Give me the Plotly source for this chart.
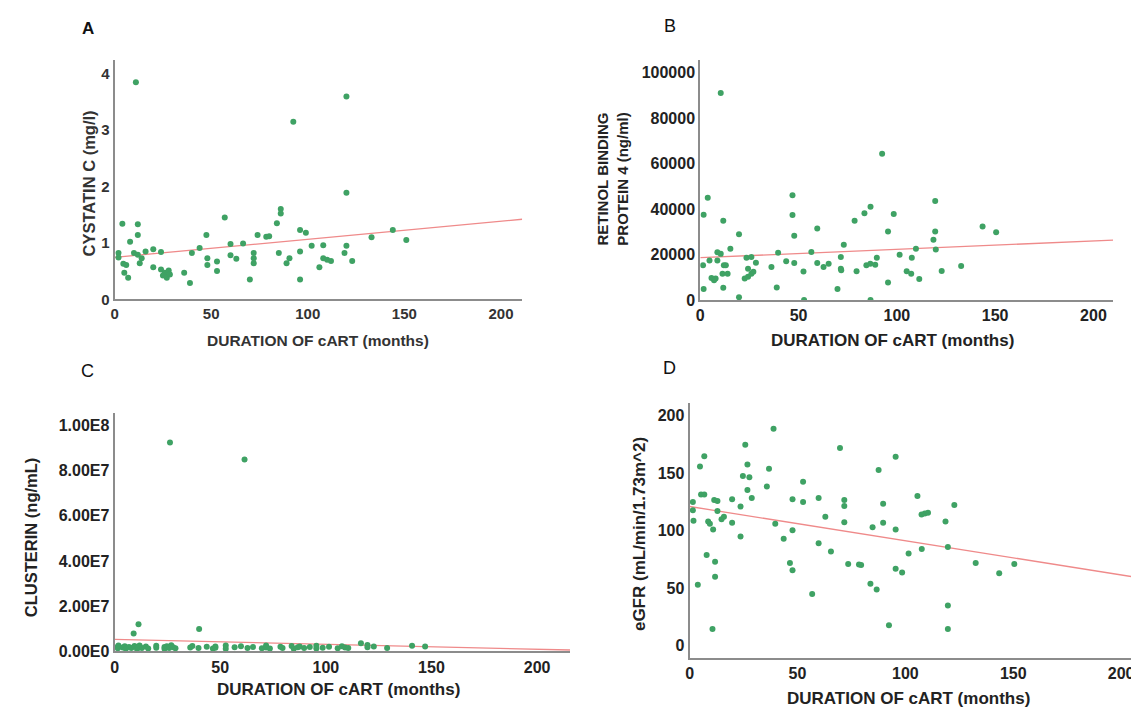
import plotly.graph_objects as go

W, H = 1139, 715

# ---------------- data ----------------
months_ticks = [0, 50, 100, 150, 200]
months_ticktext = ["0", "50", "100", "150", "200"]

# Panel A: Cystatin C (mg/l)
A_x = [11, 120, 92.5, 120, 4, 12, 12, 8, 2, 2, 4.5, 6, 5, 7, 10, 12, 14, 13, 16, 20,
       20, 24, 24, 26, 28, 27, 28.6, 25, 36, 39, 40, 44, 47.5, 48, 48, 53, 53, 57, 60, 60,
       63, 66.5, 70, 72, 72, 72, 74, 78.5, 80, 84, 86, 86, 85, 89, 90.5, 96, 99, 96, 96, 102,
       106, 108, 108, 110, 112, 119, 120, 123, 133, 144, 151]
A_y = [3.85, 3.6, 3.15, 1.89, 1.34, 1.33, 1.14, 1.02, 0.82, 0.74, 0.63, 0.61, 0.47, 0.38, 0.82, 0.79, 0.73, 0.64, 0.85, 0.89,
       0.57, 0.84, 0.53, 0.47, 0.51, 0.38, 0.44, 0.42, 0.47, 0.29, 0.82, 0.91, 1.14, 0.73, 0.61, 0.67, 0.5, 1.45, 0.98, 0.78,
       0.72, 0.99, 0.35, 0.82, 0.73, 0.64, 1.14, 1.11, 1.12, 1.35, 1.6, 1.52, 0.82, 0.64, 0.73, 1.23, 1.18, 0.85, 0.35, 0.95,
       0.57, 0.96, 0.73, 0.7, 0.68, 0.82, 0.95, 0.68, 1.1, 1.23, 1.05]
A_fit = [0.745, 0.0032]          # intercept, slope
A_yticks = [0, 1, 2, 3, 4]
A_yticktext = ["0", "1", "2", "3", "4"]

# Panel B: Retinol binding protein 4 (ng/ml)
B_x = [10.4, 92.5, 1.7, 3.8, 1.4, 1.7, 11.7, 19.7, 15.3, 8.7,
       10.4, 4.7, 8.7, 12, 13, 5.7, 7, 7.8, 11.3, 13.9,
       11.7, 19.7, 23.5, 26, 24.3, 22.6, 24.3, 26, 27, 28.3,
       36.2, 38.9, 39.6, 46.9, 46.9, 47.8, 43.7, 47.8, 52.5, 52.8,
       56.5, 59.5, 59.5, 62.7, 65.3, 69.8, 71.5, 71.5, 71.7, 73,
       78.5, 79.5, 83.5, 86.6, 84.5, 86.5, 89, 89.8, 86.6, 95.5,
       95.5, 98.4, 101.4, 105, 107.3, 107.6, 109.7, 111.4, 119.5, 119.5,
       118.6, 119.8, 122.8, 132.7, 143.6, 150.5]
B_y = [91100, 64400, 37500, 45000, 15300, 4800, 34900, 28900, 22500, 21000,
       20300, 17400, 17400, 15300, 15300, 9700, 8700, 9400, 11600, 11600,
       5400, 1200, 18600, 18900, 13800, 9400, 10200, 11600, 12400, 16400,
       14500, 5500, 20800, 46100, 37400, 28300, 17000, 16300, 12500, 0,
       21100, 31500, 16300, 14500, 16000, 4800, 18900, 13800, 13100, 24300,
       34900, 12600, 38200, 41000, 15300, 16000, 15500, 18600, 0, 30100,
       7700, 37800, 19900, 12600, 11600, 18600, 22500, 9200, 43600, 30200,
       26500, 22200, 12800, 15000, 32400, 29800]
B_fit = [18600, 37]
B_yticks = [0, 20000, 40000, 60000, 80000, 100000]
B_yticktext = ["0", "20000", "40000", "60000", "80000", "100000"]

# Panel C: Clusterin (ng/mL)
C_x = [26.2, 61.5, 9.0, 11.3, 40.0, 116.6, 129, 140.8, 147,
       1.5, 1.5, 1.8, 3.8, 4.8, 5.3, 6.8, 7.9, 9.4, 10.6, 11.4, 11.8, 12.9, 14.8, 15.9,
       19.7, 19.7, 23.6, 23.6, 24.7, 25.8, 26.8, 27.7, 28.8, 35.8, 36.8, 39.7, 43.6,
       46.5, 47.7, 47.7, 52.6, 52.6, 56.8, 59.8, 62.9, 65.5, 69.7, 71.7, 71.7, 73.5,
       78.5, 79.5, 83.8, 84.8, 86.7, 87.6, 89.7, 92.4, 95.5, 95.5, 98.5, 101.5, 105.6,
       107.6, 109.1, 110.6, 119.7, 119.7, 122.7]
C_y = [92.4e6, 84.9e6, 8.0e6, 12.0e6, 10.0e6, 3.6e6, 1.5e6, 2.5e6, 2.2e6,
       2.1e6, 1.4e6, 2.6e6, 1.8e6, 2.3e6, 1.2e6, 2.0e6, 1.6e6, 2.4e6, 1.1e6, 1.9e6, 2.7e6, 1.5e6, 2.2e6, 1.3e6,
       2.5e6, 1.7e6, 2.0e6, 1.2e6, 2.3e6, 1.6e6, 2.8e6, 1.9e6, 1.4e6, 1.8e6, 2.4e6, 1.5e6, 2.1e6,
       1.3e6, 2.2e6, 1.7e6, 2.6e6, 1.2e6, 1.9e6, 2.3e6, 1.5e6, 2.0e6, 1.4e6, 2.7e6, 1.8e6, 1.3e6,
       2.1e6, 1.6e6, 2.4e6, 1.2e6, 1.9e6, 2.2e6, 1.5e6, 2.0e6, 1.3e6, 2.5e6, 1.7e6, 2.1e6, 1.4e6,
       2.3e6, 1.8e6, 1.6e6, 2.9e6, 1.9e6, 2.2e6]
C_fit = [5.4e6, -2.2e4]
C_yticks = [0, 2e7, 4e7, 6e7, 8e7, 1e8]
C_yticktext = ["0.00E0", "2.00E7", "4.00E7", "6.00E7", "8.00E7", "1.00E8"]

# Panel D: eGFR (mL/min/1.73m^2)
D_x = [38.9, 25.8, 6.8, 4.8, 26.8, 36.8, 24.7, 27.7, 26.8, 35.8,
       52.6, 69.7, 95.5, 87.6, 1.5, 1.5, 1.8, 5.3, 6.8, 11.4,
       12.9, 12.9, 8.6, 9.4, 10.9, 14.8, 15.9, 19.7, 23.6, 19.7,
       23.6, 28.8, 39.7, 47.7, 52.6, 43.6, 47.7, 59.8, 62.9, 71.7,
       71.7, 71.7, 59.8, 65.5, 73.5, 78.5, 79.5, 89.7, 84.8, 89.7,
       95.5, 101.5, 95.5, 98.5, 56.8, 83.8, 86.7, 7.9, 11.8, 11.8,
       3.8, 10.6, 92.4, 46.5, 47.7, 105.6, 107.5, 109, 110.5, 122.7,
       118.6, 119.7, 107.6, 132.6, 143.5, 150.5, 119.7, 119.7]
D_y = [188.6, 174.6, 164.6, 155.7, 157.4, 153.7, 147.4, 146.3, 135.4, 138.3,
       142.6, 171.7, 164.3, 152.6, 125, 117.7, 108.6, 131.4, 131.4, 126.6,
       125.7, 117.1, 108, 106, 101, 110, 112, 127.4, 121, 107,
       95, 128.3, 106, 127.4, 125, 93, 100.3, 128.3, 112, 126.6,
       121.4, 107.4, 89, 82, 71, 70.6, 70.3, 123.4, 103, 107,
       101, 80.3, 66.9, 63.7, 45, 54, 48.9, 78.9, 73, 60,
       53, 14.6, 18, 72, 65.7, 130.2, 114, 115, 115.5, 122.2,
       108, 85.9, 84.2, 71.9, 63, 71, 35, 14.6]
D_fit = [121, -0.297]
D_yticks = [0, 50, 100, 150, 200]
D_yticktext = ["0", "50", "100", "150", "200"]

# ---------------- styling ----------------
DOT = "#3fa264"
FIT = "#ef8a8a"
AXC = "#8c8c8c"
FONT = "Liberation Sans, Arial, sans-serif"


def dx(a, b):
    return [a / W, b / W]


def dy(top, bottom):
    return [1 - bottom / H, 1 - top / H]


panels = [
    # (xs, ys, fit, xrange, yrange, xdom, ydom, yticks, yticktext, tickfont)
    (A_x, A_y, A_fit, [0, 211], [0, 4.24], dx(103, 512), dy(53, 295), A_yticks, A_yticktext,
     dict(family=FONT, size=15, color="#333", weight="bold")),
    (B_x, B_y, B_fit, [0, 210], [0, 105500], dx(690.7, 1105), dy(53, 295.7), B_yticks, B_yticktext,
     dict(family=FONT, size=16, color="#222", weight="bold")),
    (C_x, C_y, C_fit, [0, 215.6], [0, 1.055e8], dx(103, 560), dy(410, 651.7), C_yticks, C_yticktext,
     dict(family=FONT, size=16, color="#222", weight="bold")),
    (D_x, D_y, D_fit, [0, 212], [-10.3, 210.9], dx(680, 1139), dy(400, 658), D_yticks, D_yticktext,
     dict(family=FONT, size=16, color="#222", weight="bold")),
]

fig = go.Figure()
layout = dict(width=W, height=H, margin=dict(l=0, r=0, t=0, b=0),
              paper_bgcolor="white", plot_bgcolor="white", showlegend=False)

for i, (xs, ys, fit, xr, yr, xd, yd, yt, ytt, tf) in enumerate(panels, start=1):
    sfx = "" if i == 1 else str(i)
    fig.add_trace(go.Scatter(x=[xr[0], xr[1]], y=[fit[0] + fit[1] * xr[0], fit[0] + fit[1] * xr[1]],
                             mode="lines", line=dict(color=FIT, width=1.3),
                             xaxis="x" + sfx, yaxis="y" + sfx, hoverinfo="skip"))
    fig.add_trace(go.Scatter(x=xs, y=ys, mode="markers",
                             marker=dict(color=DOT, size=6, line=dict(width=0)),
                             xaxis="x" + sfx, yaxis="y" + sfx))
    layout["xaxis" + sfx] = dict(domain=xd, range=xr, anchor="y" + sfx, showgrid=False, zeroline=False,
                                 showline=True, linecolor=AXC, linewidth=2, ticks="",
                                 tickvals=months_ticks, ticktext=months_ticktext,
                                 tickfont=tf, fixedrange=True)
    layout["yaxis" + sfx] = dict(domain=yd, range=yr, anchor="x" + sfx, showgrid=False, zeroline=False,
                                 showline=True, linecolor=AXC, linewidth=2, ticks="",
                                 tickvals=yt, ticktext=ytt, tickfont=tf, fixedrange=True)

fig.update_layout(**layout)

ann = []


def txt(x, y, s, size, weight="bold", angle=0, color="#222"):
    ann.append(dict(x=x / W, y=1 - y / H, xref="paper", yref="paper", text=s, showarrow=False,
                    textangle=angle, xanchor="center", yanchor="middle",
                    font=dict(family=FONT, size=size, color=color, weight=weight)))


# panel letters
txt(76, 21, "A", 17, weight="bold", color="#111")
txt(660, 18, "B", 18, weight="normal", color="#111")
txt(76, 368, "C", 18, weight="normal", color="#111")
txt(660, 365, "D", 18, weight="normal", color="#111")

# x titles
txt(307, 337, "DURATION OF cART (months)", 15.5, color="#333")
txt(884, 337, "DURATION OF cART (months)", 17)
txt(328, 690, "DURATION OF cART (months)", 17)
txt(900, 699, "DURATION OF cART (months)", 17)

# y titles
txt(77, 178, "CYSTATIN C (mg/l)", 16.5, angle=-90, color="#333")
txt(603, 173, "RETINOL BINDING<br>PROTEIN 4 (ng/ml)", 15, angle=-90)
txt(19, 536, "CLUSTERIN (ng/mL)", 16.5, angle=-90)
txt(630, 533, "eGFR (mL/min/1.73m^2)", 17, angle=-90)

fig.update_layout(annotations=ann)
fig.write_html("out.html")
